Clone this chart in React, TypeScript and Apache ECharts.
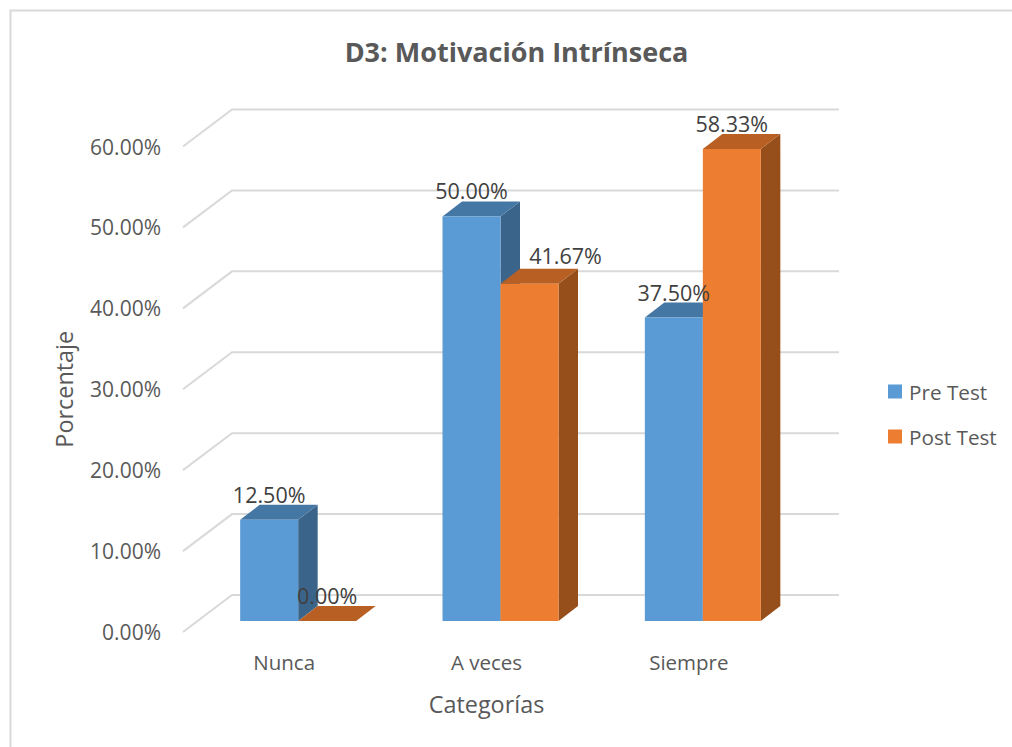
import React, { useEffect, useRef } from "react";
import * as echarts from "echarts";

const categories = ["Nunca", "A veces", "Siempre"];
const preTest = [12.5, 50.0, 37.5];
const postTest = [0.0, 41.67, 58.33];
const wallTicks = [0, 10, 20, 30, 40, 50, 60];

const FONT = "'Open Sans', sans-serif";
const GRID = { left: 183, top: 146.5, width: 607, height: 485.5 };
const WALL_DX = 49;
const WALL_DY = 37;
const BAR_DX = 14;
const BAR_DY = 11;
const BAR_W = 58;
const DEPTH_X = 19.5;
const DEPTH_Y = 15;

const pct = (v: number) => v.toFixed(2) + "%";

function wallRender(_p: any, api: any) {
  const v = api.value(1);
  const c = api.coord([0, v]);
  const band = api.size([1, 0])[0];
  const x0 = c[0] - band / 2;
  const y = c[1];
  return {
    type: "polyline",
    silent: true,
    shape: {
      points: [
        [x0, y],
        [x0 + WALL_DX, y - WALL_DY],
        [x0 + WALL_DX + band * 3, y - WALL_DY],
      ],
    },
    style: { stroke: "#d9d9d9", lineWidth: 2, fill: "none" },
  };
}

function barRender(side: -1 | 0, front: string, top: string, right: string) {
  return (_p: any, api: any) => {
    const cat = api.value(0);
    const v = api.value(1);
    const base = api.coord([cat, 0]);
    const head = api.coord([cat, v]);
    const x0 = base[0] + BAR_DX + side * BAR_W;
    const x1 = x0 + BAR_W;
    const yb = base[1] - BAR_DY;
    const yt = head[1] - BAR_DY;
    const poly = (points: number[][], fill: string) => ({
      type: "polygon",
      shape: { points },
      style: { fill },
    });
    return {
      type: "group",
      children: [
        poly([[x1, yb], [x1 + DEPTH_X, yb - DEPTH_Y], [x1 + DEPTH_X, yt - DEPTH_Y], [x1, yt]], right),
        poly([[x0, yt], [x0 + DEPTH_X, yt - DEPTH_Y], [x1 + DEPTH_X, yt - DEPTH_Y], [x1, yt]], top),
        poly([[x0, yb], [x1, yb], [x1, yt], [x0, yt]], front),
      ],
    };
  };
}

function labelRender(side: -1 | 0) {
  return (_p: any, api: any) => {
    const cat = api.value(0);
    const v = api.value(1);
    const head = api.coord([cat, v]);
    const base = api.coord([cat, 0]);
    const cx = base[0] + BAR_DX + side * BAR_W + BAR_W / 2;
    // The "A veces" Post Test label sits beside its neighbour in the reference.
    const shifted = side === 0 && cat === 1;
    return {
      type: "text",
      style: {
        text: pct(v),
        x: cx + (shifted ? 36 : 0),
        y: head[1] - BAR_DY - 25.5 - (shifted ? 3 : 0),
        align: "center",
        verticalAlign: "middle",
        fontSize: 21.5,
        fontFamily: FONT,
        fill: "#404040",
      },
    };
  };
}

export default function App() {
  const ref = useRef<HTMLDivElement>(null);
  useEffect(() => {
    const chart = echarts.init(ref.current!, null, { renderer: "svg" });
    const rows = (vals: number[]) => vals.map((v, i) => [i, v]);
    chart.setOption({
      animation: false,
      backgroundColor: "#ffffff",
      title: {
        text: "D3: Motivación Intrínseca",
        left: 511.5,
        top: 33,
        textAlign: "center",
        textStyle: { fontFamily: FONT, fontSize: 27, fontWeight: "bold", color: "#595959" },
      },
      graphic: [
        {
          type: "polyline",
          shape: { points: [[10.5, 747], [10.5, 10.5], [1012, 10.5]] },
          style: { stroke: "#d9d9d9", lineWidth: 2, fill: "none" },
        },
      ],
      legend: {
        data: ["Pre Test", "Post Test"],
        orient: "vertical",
        left: 888,
        top: 381,
        itemWidth: 14,
        itemHeight: 14,
        itemGap: 24,
        icon: "rect",
        padding: 0,
        textStyle: { fontFamily: FONT, fontSize: 20.7, color: "#595959", padding: [0, 0, 0, 2] },
      },
      grid: { ...GRID, containLabel: false },
      xAxis: {
        type: "category",
        data: categories,
        name: "Categorías",
        nameLocation: "middle",
        nameGap: 60,
        nameTextStyle: { fontFamily: FONT, fontSize: 23.4, color: "#595959" },
        axisLine: { show: false },
        axisTick: { show: false },
        axisLabel: { margin: 19, fontFamily: FONT, fontSize: 20.5, color: "#595959" },
      },
      yAxis: {
        type: "value",
        min: 0,
        max: 60,
        interval: 10,
        name: "Porcentaje",
        nameLocation: "middle",
        nameGap: 108,
        nameTextStyle: { fontFamily: FONT, fontSize: 23.4, color: "#595959" },
        axisLine: { show: false },
        axisTick: { show: false },
        splitLine: { show: false },
        axisLabel: {
          margin: 22,
          fontFamily: FONT,
          fontSize: 21,
          color: "#595959",
          padding: [4, 0, 0, 0],
          formatter: (v: number) => pct(v),
        },
      },
      series: [
        {
          name: "wall",
          type: "custom",
          silent: true,
          clip: false,
          z: 1,
          data: wallTicks.map((v) => [0, v]),
          encode: { x: 0, y: 1 },
          renderItem: wallRender,
        },
        {
          name: "Pre Test",
          type: "custom",
          clip: false,
          z: 2,
          itemStyle: { color: "#5B9BD5" },
          data: rows(preTest),
          encode: { x: 0, y: 1 },
          renderItem: barRender(-1, "#5B9BD5", "#4577A5", "#3A6489"),
        },
        {
          name: "Post Test",
          type: "custom",
          clip: false,
          z: 3,
          itemStyle: { color: "#ED7D31" },
          data: rows(postTest),
          encode: { x: 0, y: 1 },
          renderItem: barRender(0, "#ED7D31", "#B86023", "#964F1B"),
        },
        {
          name: "preLabels",
          type: "custom",
          silent: true,
          clip: false,
          z: 4,
          data: rows(preTest),
          encode: { x: 0, y: 1 },
          renderItem: labelRender(-1),
        },
        {
          name: "postLabels",
          type: "custom",
          silent: true,
          clip: false,
          z: 4,
          data: rows(postTest),
          encode: { x: 0, y: 1 },
          renderItem: labelRender(0),
        },
      ],
    });
    return () => chart.dispose();
  }, []);
  return <div ref={ref} style={{ position: "absolute", left: 0, top: 0, width: 1012, height: 747 }} />;
}
